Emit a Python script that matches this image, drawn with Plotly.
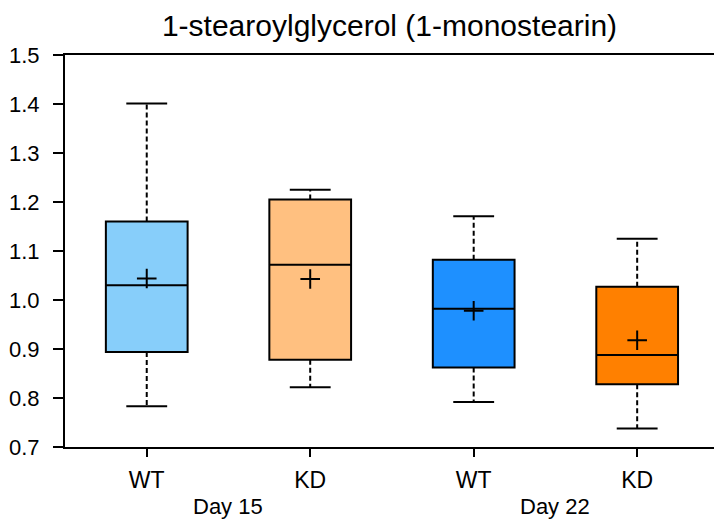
import plotly.graph_objects as go

groups = ["WT", "KD", "WT", "KD"]
days = ["Day 15", "Day 22"]
colors = ["#87CEFA", "#FFC080", "#1E90FF", "#FF8000"]
lower_whisker = [0.783, 0.822, 0.792, 0.738]
q1 = [0.894, 0.878, 0.862, 0.828]
median = [1.030, 1.072, 0.982, 0.888]
q3 = [1.160, 1.205, 1.082, 1.027]
upper_whisker = [1.401, 1.225, 1.171, 1.125]
mean = [1.044, 1.043, 0.978, 0.918]

pos = list(range(len(groups)))
cap_half = 0.125

fig = go.Figure()
for i in pos:
    # dashed whiskers
    fig.add_trace(go.Scatter(
        x=[pos[i], pos[i], None, pos[i], pos[i]],
        y=[q3[i], upper_whisker[i], None, q1[i], lower_whisker[i]],
        mode="lines", line=dict(color="black", width=2, dash="5px,3px"),
        hoverinfo="skip", showlegend=False))
    # caps
    fig.add_trace(go.Scatter(
        x=[pos[i] - cap_half, pos[i] + cap_half, None, pos[i] - cap_half, pos[i] + cap_half],
        y=[upper_whisker[i], upper_whisker[i], None, lower_whisker[i], lower_whisker[i]],
        mode="lines", line=dict(color="black", width=2),
        hoverinfo="skip", showlegend=False))
    fig.add_trace(go.Box(
        x=[pos[i]], q1=[q1[i]], median=[median[i]], q3=[q3[i]],
        lowerfence=[q1[i]], upperfence=[q3[i]],
        fillcolor=colors[i], line=dict(color="black", width=2),
        width=0.5, whiskerwidth=0, showlegend=False, boxpoints=False))

fig.add_trace(go.Scatter(
    x=pos, y=mean, mode="markers",
    marker=dict(symbol="cross-thin", size=14, line=dict(color="black", width=2)),
    showlegend=False))

for k, d in enumerate(days):
    fig.add_annotation(x=(pos[2 * k] + pos[2 * k + 1]) / 2, y=-0.153, xref="x", yref="paper",
                       text=d, showarrow=False, yanchor="middle",
                       font=dict(size=22, color="black"))

fig.update_layout(
    width=714, height=522,
    margin=dict(l=65, r=0, t=55, b=75),
    paper_bgcolor="white", plot_bgcolor="white",
    font=dict(family="Liberation Sans, Arial, sans-serif", color="black"),
    title=dict(text="1-stearoylglycerol (1-monostearin)", x=0.5, xref="paper",
               y=0.952, yanchor="middle", font=dict(size=30, color="black")),
)
fig.update_xaxes(range=[-0.5, 3.47], tickmode="array", tickvals=pos, ticktext=groups,
                 showline=True, linecolor="black", linewidth=2, mirror=True,
                 ticks="outside", ticklen=8, tickwidth=2, tickcolor="black",
                 ticklabelstandoff=3,
                 showgrid=False, zeroline=False, tickfont=dict(size=23))
fig.update_yaxes(range=[0.7, 1.5], tickmode="array",
                 tickvals=[0.7, 0.8, 0.9, 1.0, 1.1, 1.2, 1.3, 1.4, 1.5],
                 ticktext=["0.7", "0.8", "0.9", "1.0", "1.1", "1.2", "1.3", "1.4", "1.5"],
                 showline=True, linecolor="black", linewidth=2, mirror=False,
                 ticks="outside", ticklen=10, tickwidth=2, tickcolor="black",
                 ticklabelstandoff=9,
                 showgrid=False, zeroline=False, tickfont=dict(size=22))

fig.write_html("out.html", config={"displayModeBar": False},
               post_script="document.body.style.margin='0';document.body.style.overflow='hidden';")
